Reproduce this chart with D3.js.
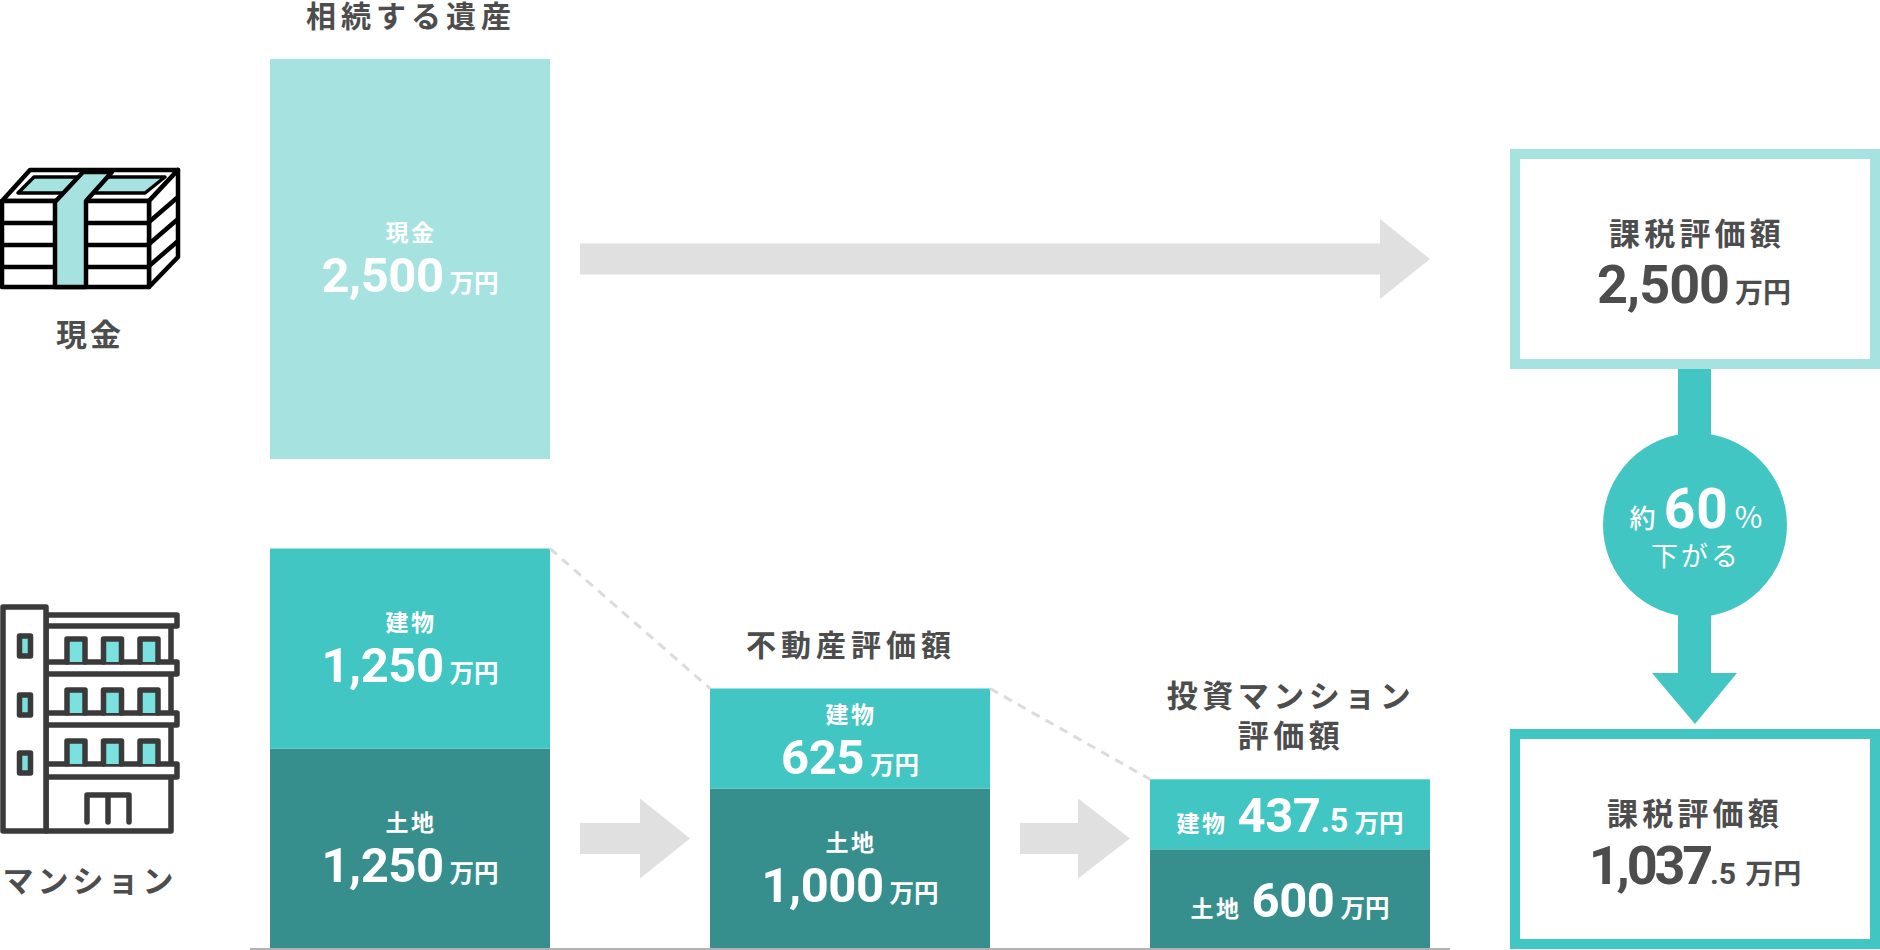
<!DOCTYPE html>
<html lang="ja"><head><meta charset="utf-8">
<script src="https://cdn.jsdelivr.net/npm/d3@7"></script>
<style>html,body{margin:0;padding:0;background:#fff}svg{display:block}</style>
</head><body><svg id="c" width="1880" height="950"></svg>
<script>
// ---- data ----
const columns = ["相続", "不動産評価額", "投資マンション評価額"];
const cashValue = 2500;
const buildingValues = [1250, 625, 437.5];
// height of the land segments as drawn in the picture (the third is drawn a little taller than its label)
const landDrawn = [1250, 1000, 620];
const buildingLabels = ["1,250", "625", "437.5"];
const landLabels = ["1,250", "1,000", "600"];
const taxLabels = ["2,500", "1,037.5"];
const colors = {light:"#a6e3e0", teal:"#42c6c3", dark:"#378f8d", arrow:"#e0e0e0", text:"#4d4d4d", base:"#b3b3b3", dash:"#dcdcdc", win:"#7be0e0"};
const CJK = "'Noto Sans CJK JP','Noto Sans',sans-serif", NUM = "Roboto,sans-serif";

const svg = d3.select("#c");
const x = d3.scaleBand().domain(columns).range([270,1430]).paddingInner(160/440).paddingOuter(0);
const yLow = d3.scaleLinear().domain([0,2500]).range([948.5,548.5]);
const yCash = d3.scaleLinear().domain([0,2500]).range([459,59]);
const w = x.bandwidth();

// ---- text helpers ----
function label(t,cx,base,size,fill,ls,weight){
  return svg.append("text").attr("x",cx).attr("y",base).attr("text-anchor","middle")
    .attr("font-family",CJK).attr("font-weight",weight||700).attr("font-size",size)
    .attr("letter-spacing",ls).attr("fill",fill).text(t);
}
function money(str,cx,base,o){
  const {size=49,unit=24.5,fill="#fff",gap=6,ls=-0.5,frac=0.66,prefix=null} = o||{};
  const t = svg.append("text").attr("x",cx).attr("y",base).attr("text-anchor","middle").attr("fill",fill);
  if(prefix){
    t.append("tspan").attr("font-family",CJK).attr("font-weight",700).attr("font-size",23).attr("letter-spacing",2.5).text(prefix);
  }
  const [a,b] = str.split(".");
  const n = t.append("tspan").attr("font-family",NUM).attr("font-weight",700).attr("font-size",size).attr("letter-spacing",ls).text(a);
  if(prefix) n.attr("dx",10);
  if(b) t.append("tspan").attr("font-family",NUM).attr("font-weight",700).attr("font-size",size*frac).text("."+b);
  t.append("tspan").attr("dx",gap).attr("font-family",CJK).attr("font-weight",700).attr("font-size",unit).text("万円");
  return t;
}

// ---- baseline ----
svg.append("rect").attr("x",250).attr("y",948).attr("width",1200).attr("height",2).attr("fill",colors.base);

// ---- bars ----
svg.append("rect").attr("x",x(columns[0])).attr("width",w).attr("y",yCash(cashValue)).attr("height",yCash(0)-yCash(cashValue)).attr("fill",colors.light);
const rows = columns.map((c,i)=>({c,land:landDrawn[i],bld:buildingValues[i]}));
svg.selectAll("rect.land").data(rows).join("rect").attr("class","land")
  .attr("x",d=>x(d.c)).attr("width",w).attr("y",d=>yLow(d.land)).attr("height",d=>yLow(0)-yLow(d.land)-.5).attr("fill",colors.dark);
svg.selectAll("rect.bld").data(rows).join("rect").attr("class","bld")
  .attr("x",d=>x(d.c)).attr("width",w).attr("y",d=>yLow(d.land+d.bld)).attr("height",d=>yLow(d.land)-yLow(d.land+d.bld)).attr("fill",colors.teal);

// dashed connectors between tops of successive columns
d3.pairs(rows).forEach(([a,b])=>{
  svg.append("line").attr("x1",x(a.c)+w).attr("y1",yLow(a.land+a.bld)).attr("x2",x(b.c)).attr("y2",yLow(b.land+b.bld))
    .attr("stroke",colors.dash).attr("stroke-width",3).attr("stroke-dasharray","9 7");
});

// ---- grey arrows ----
function hArrow(x0,x1,tip,cy){
  svg.append("path").attr("fill",colors.arrow).attr("d",`M${x0},${cy-15.5}H${x1}V${cy-40}L${tip},${cy}L${x1},${cy+40}V${cy+15.5}H${x0}Z`);
}
hArrow(580,1380,1430,259);
hArrow(580,640,690,838.5);
hArrow(1020,1078,1130,838.5);

// ---- right-hand boxes ----
svg.append("rect").attr("x",1515).attr("y",154).attr("width",360).attr("height",210).attr("fill","#fff").attr("stroke",colors.light).attr("stroke-width",10);
svg.append("rect").attr("x",1515).attr("y",734).attr("width",360).attr("height",210).attr("fill","#fff").attr("stroke",colors.teal).attr("stroke-width",10);
svg.append("path").attr("fill",colors.teal).attr("d","M1678,369H1711V673H1737L1695,724L1652,673H1678Z");
svg.append("circle").attr("cx",1695).attr("cy",525).attr("r",92).attr("fill",colors.teal);

// ---- labels on bars ----
const cx = c=>x(c)+w/2;
label("相続する遺産",cx(columns[0])+1,27,30,colors.text,5);
label("現金",cx(columns[0])+1,241,23,"#fff",2.5);
money("2,500",cx(columns[0]),292,{});
label("建物",cx(columns[0])+1,631,23,"#fff",2.5);
money(buildingLabels[0],cx(columns[0]),682,{});
label("土地",cx(columns[0])+1,831,23,"#fff",2.5);
money(landLabels[0],cx(columns[0]),882,{});
label("不動産評価額",cx(columns[1])+1,656,30,colors.text,5);
label("建物",cx(columns[1])+1,723,23,"#fff",2.5);
money(buildingLabels[1],cx(columns[1]),774,{});
label("土地",cx(columns[1])+1,851,23,"#fff",2.5);
money(landLabels[1],cx(columns[1]),902,{});
label("投資マンション",cx(columns[2])+1,707,31,colors.text,4.5);
label("評価額",cx(columns[2])+1,747,31,colors.text,4.5);
money(buildingLabels[2],cx(columns[2]),832,{prefix:"建物"});
money(landLabels[2],cx(columns[2]),917,{prefix:"土地"});

// ---- right labels ----
label("課税評価額",1697,245,31,colors.text,4.2);
money(taxLabels[0],1694,303,{size:54,unit:28,fill:colors.text,ls:-1,gap:6});
label("課税評価額",1695,825,31,colors.text,4.2);
money(taxLabels[1],1695,884,{size:54,unit:28,fill:colors.text,ls:-3.2,gap:9,frac:0.56});

const pct = svg.append("text").attr("x",1696).attr("y",528).attr("text-anchor","middle").attr("fill","#fff");
pct.append("tspan").attr("font-family",CJK).attr("font-size",26).attr("font-weight",500).text("約");
pct.append("tspan").attr("dx",8).attr("font-family",NUM).attr("font-size",55).attr("font-weight",700).attr("letter-spacing",1).text("60");
pct.append("tspan").attr("dx",6).attr("font-family",CJK).attr("font-size",30).attr("font-weight",400).text("%");
label("下がる",1696,566,27,"#fff",3,400);

// ---- left labels ----
label("現金",90,346,31,colors.text,3);
label("マンション",90,892,31,colors.text,4);

// ---- icon: cash ----
const m = svg.append("g").attr("fill","none").attr("stroke","#000").attr("stroke-width",4.5).attr("stroke-linejoin","round");
m.append("path").attr("fill","#fff").attr("d","M2,201L30,170H178L149,201Z");
m.append("path").attr("fill",colors.light).attr("stroke-width",3.5).attr("d","M18,193L34,177H165L145,193Z");
m.append("path").attr("fill","#fff").attr("d","M149,201L178,170V257L149,287Z");
m.append("rect").attr("x",2).attr("y",201).attr("width",147).attr("height",86).attr("fill","#fff");
[223,245,267].forEach(y=>{
  m.append("line").attr("x1",2).attr("x2",149).attr("y1",y).attr("y2",y);
  m.append("line").attr("x1",149).attr("x2",178).attr("y1",y-1).attr("y2",y-26);
});
m.append("path").attr("fill",colors.light).attr("d","M55,287V202L83,172H112L86,201V287Z");

// ---- icon: building ----
const b = svg.append("g").attr("fill","#fff").attr("stroke","#3a3a3a").attr("stroke-width",5.5).attr("stroke-linejoin","round").attr("stroke-linecap","round");
b.append("rect").attr("x",46).attr("y",620).attr("width",125).attr("height",211);
[[615,626],[662,674],[713,725],[764,777]].forEach(([a,c])=>b.append("rect").attr("x",46).attr("y",a).attr("width",131).attr("height",c-a));
[639,690,741].forEach(y=>[67,103.5,140].forEach(xx=>{
  b.append("path").attr("fill",colors.win).attr("d",`M${xx},${y+23}V${y}H${xx+18}V${y+23}`);
}));
b.append("rect").attr("x",3).attr("y",607).attr("width",43).attr("height",224);
[646,705,763].forEach(y=>b.append("rect").attr("x",19.5).attr("y",y-10).attr("width",11).attr("height",20).attr("fill",colors.win));
b.append("path").attr("fill","none").attr("d","M87,822V795H129V822M108,795V822");
</script></body></html>
